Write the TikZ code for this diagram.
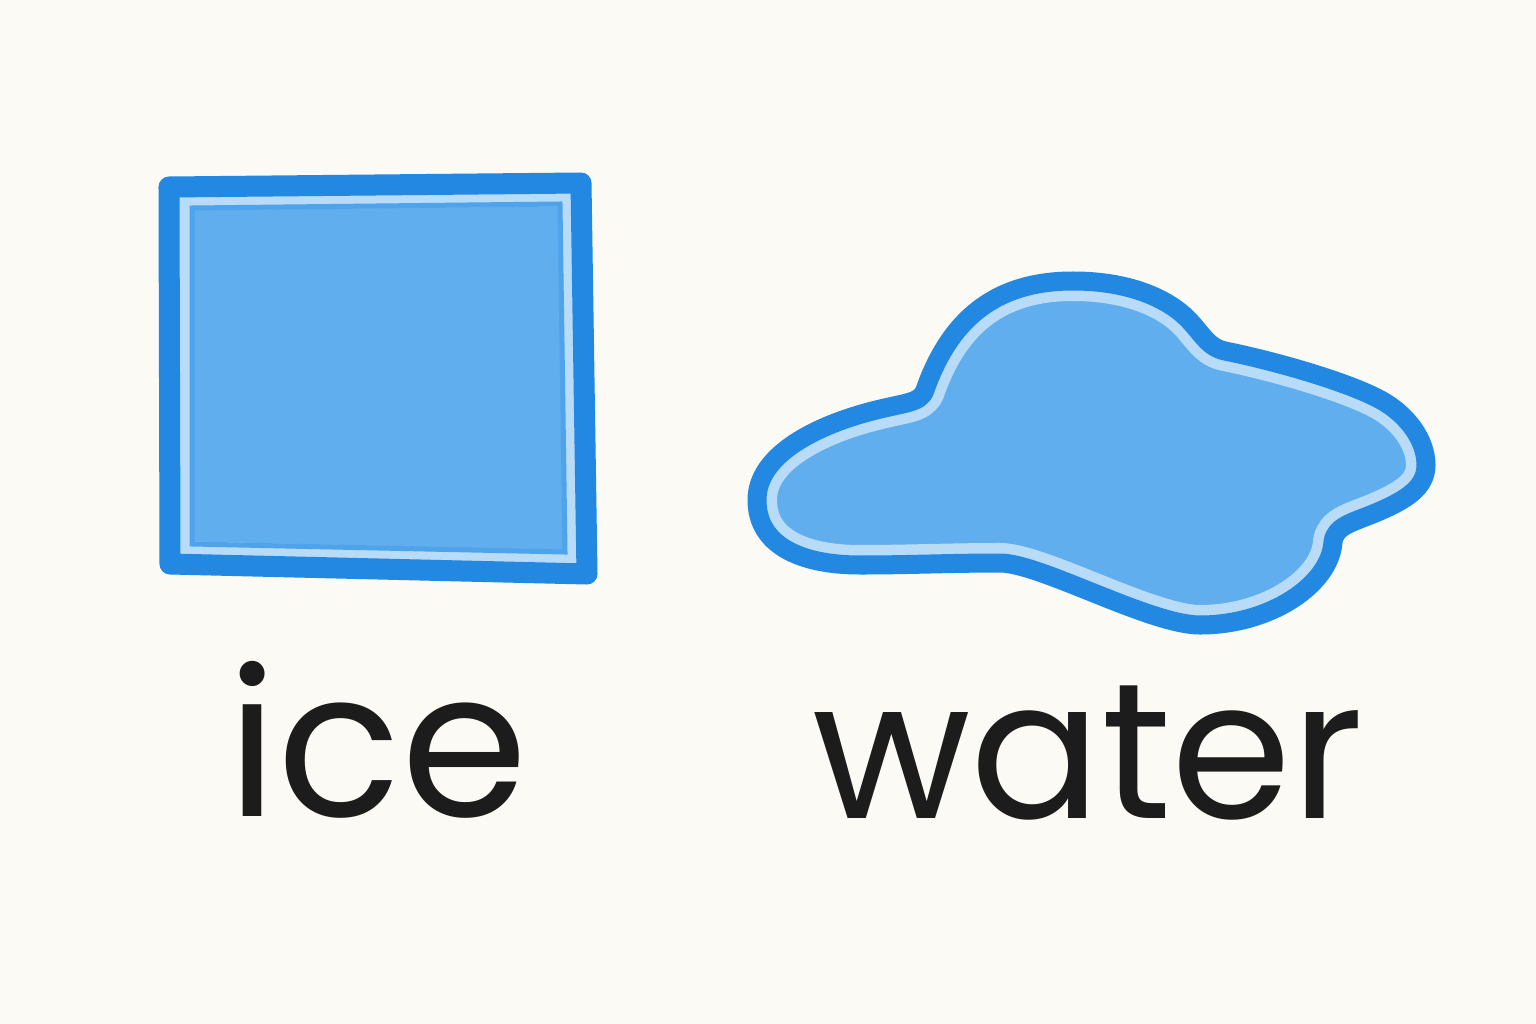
\documentclass[tikz,border=0pt]{standalone}
\usepackage{fontspec}
\setmainfont{Poppins}
\definecolor{paper}{HTML}{FBFAF5}
\definecolor{crayon}{HTML}{2288E2}
\definecolor{wash}{HTML}{60AEEE}
\definecolor{band}{HTML}{B8DBF7}
\definecolor{innerline}{HTML}{4FA3EA}
\definecolor{ink}{HTML}{1C1C1C}
\tikzset{
  outline/.style={draw=crayon, line width=0.19cm, line join=round},
  lightband/.style={draw=band, line width=0.40cm, line join=round},
  lbl/.style={text=ink, inner sep=0pt, anchor=base}
}
\begin{document}
\begin{tikzpicture}[x=0.01cm,y=-0.01cm]
\fill[paper] (0,0) rectangle (1536,1024);
\useasboundingbox (0,0) rectangle (1536,1024);
% ice cube
\def\icepath{(169,187) -- (581,183) -- (587,574) -- (170,564) -- cycle}
\fill[wash] \icepath;
\begin{scope}
  \clip \icepath;
  \draw[lightband, line width=0.46cm] \icepath;
  \draw[innerline, line width=0.05cm] (192,208) -- (560,204) -- (565,552) -- (192,544) -- cycle;
\end{scope}
\draw[outline, line width=0.21cm] \icepath;
% puddle
\def\puddle{(757,500) .. controls (757,455) and (815,428) .. (858,415)
  .. controls (901,402) and (920,405) .. (925,390)
  .. controls (948,325) and (990,281) .. (1073,281)
  .. controls (1125,281) and (1160,296) .. (1180,312)
  .. controls (1200,328) and (1205,347) .. (1225,351)
  .. controls (1270,360) and (1342,380) .. (1377,398)
  .. controls (1407,413) and (1426,440) .. (1426,465)
  .. controls (1426,488) and (1405,500) .. (1380,511)
  .. controls (1355,522) and (1335,525) .. (1333,542)
  .. controls (1330,585) and (1270,625) .. (1200,625)
  .. controls (1150,625) and (1040,563) .. (1000,563)
  .. controls (950,563) and (910,565) .. (860,565)
  .. controls (800,565) and (757,545) .. (757,500) -- cycle}
\fill[wash] \puddle;
\begin{scope}
  \clip \puddle;
  \draw[lightband] \puddle;
\end{scope}
\draw[outline] \puddle;
% labels
\node[lbl, font=\fontsize{58}{60}\selectfont] (ice) at (378,816) {ice};
\node[lbl, font=\fontsize{55}{58}\selectfont] (water) at (1088,818) {water};
\end{tikzpicture}
\end{document}
